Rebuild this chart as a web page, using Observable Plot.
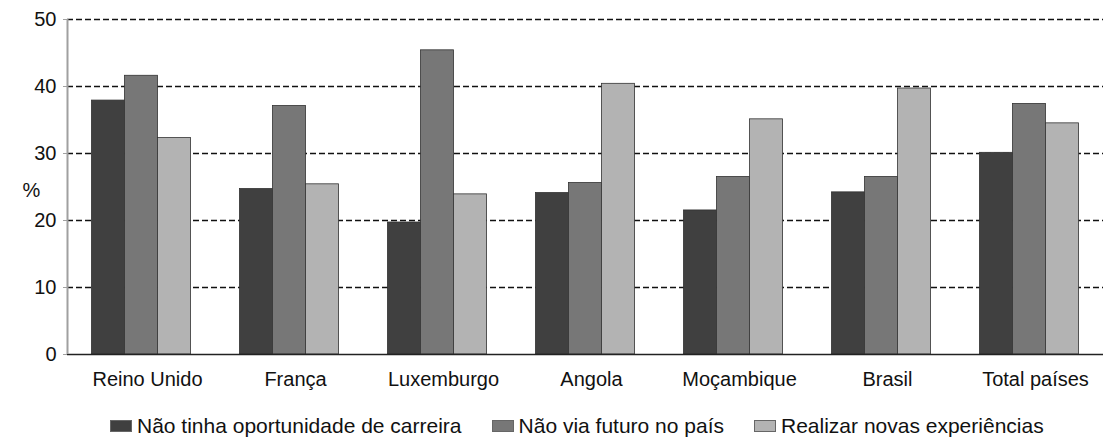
<!DOCTYPE html>
<html>
<head>
<meta charset="utf-8">
<script src="https://cdn.jsdelivr.net/npm/d3@7"></script>
<script src="https://cdn.jsdelivr.net/npm/@observablehq/plot@0.6"></script>
<style>
  html, body { margin: 0; padding: 0; background: #fff; }
  #chart { width: 1106px; height: 443px; font-family: "Liberation Sans", Arial, sans-serif; }
  .legend { display: flex; align-items: center; box-sizing: border-box; height: 43px; padding-top: 8px; padding-left: 110px; font-size: 21px; color: #111; }
  .legend .item { display: flex; align-items: center; margin-right: 30px; }
  .legend .sw { width: 22px; height: 12px; margin-right: 5px; box-sizing: border-box; border: 1px solid #666; }
</style>
</head>
<body>
<div id="chart"></div>
<script>
const countries = ["Reino Unido", "França", "Luxemburgo", "Angola", "Moçambique", "Brasil", "Total países"];
const seriesNames = ["Não tinha oportunidade de carreira", "Não via futuro no país", "Realizar novas experiências"];
const carreira = [37.9, 24.7, 19.7, 24.1, 21.5, 24.2, 30.1];
const futuro = [41.6, 37.1, 45.4, 25.6, 26.5, 26.5, 37.4];
const experiencias = [32.3, 25.4, 23.9, 40.4, 35.1, 39.7, 34.5];
const yTicks = [0, 10, 20, 30, 40, 50];
const gridValues = [10, 20, 30, 40, 50];
const colors = ["#404040", "#777777", "#b3b3b3"];

// group layout (in category units): each group fills 0.67 of its slot
const groupFill = 0.67;
const barW = groupFill / seriesNames.length;
const seriesValues = [carreira, futuro, experiencias];
const data = [];
countries.forEach((c, i) => {
  seriesNames.forEach((s, j) => {
    const x1 = i - groupFill / 2 + j * barW;
    data.push({country: c, series: s, value: seriesValues[j][i], x1, x2: x1 + barW});
  });
});
const xDomain = [-0.5, countries.length - 0.5];

const chart = Plot.plot({
  width: 1106,
  height: 400,
  marginTop: 19,
  marginBottom: 46,
  marginLeft: 67,
  marginRight: 3,
  style: {fontFamily: "'Liberation Sans', Arial, sans-serif", fontSize: "20px", color: "#111", background: "#fff"},
  x: {type: "linear", domain: xDomain},
  y: {domain: [0, 50]},
  color: {domain: seriesNames, range: colors},
  marks: [
    Plot.ruleY(gridValues, {stroke: "#111", strokeWidth: 1.3, strokeDasharray: "6,3"}),
    Plot.rectY(data, {x1: "x1", x2: "x2", y: "value", fill: "series", stroke: "#333", strokeWidth: 0.8}),
    Plot.ruleY([0], {stroke: "#222", strokeWidth: 1.5}),
    Plot.ruleX([xDomain[0]], {y1: 0, y2: 50, stroke: "#a0a0a0", strokeWidth: 2}),
    Plot.axisY({ticks: yTicks, tickSize: 4, tickPadding: 7, stroke: "#a0a0a0", fontSize: 20, label: null}),
    Plot.axisX({ticks: d3.range(countries.length), tickFormat: i => countries[i], tickSize: 0, tickPadding: 17, fontSize: 20, dx: 6, label: null}),
    Plot.text(["%"], {frameAnchor: "left", dx: -45, dy: 4, fontSize: 20, fill: "#111"})
  ]
});
document.getElementById("chart").appendChild(chart);

const legend = document.createElement("div");
legend.className = "legend";
seriesNames.forEach((s, j) => {
  const item = document.createElement("div");
  item.className = "item";
  const sw = document.createElement("span");
  sw.className = "sw";
  sw.style.background = colors[j];
  const t = document.createElement("span");
  t.textContent = s;
  item.appendChild(sw);
  item.appendChild(t);
  legend.appendChild(item);
});
document.getElementById("chart").appendChild(legend);
</script>
</body>
</html>
